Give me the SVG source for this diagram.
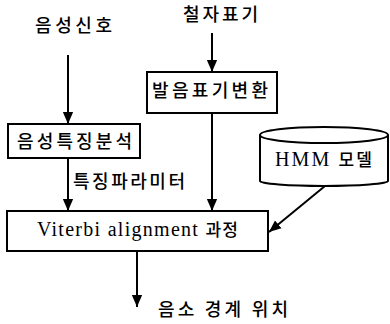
<svg xmlns="http://www.w3.org/2000/svg" width="390" height="324" viewBox="0 0 390 324">
<style>
.box{fill:#fff;stroke:#000;stroke-width:2}
.ln{fill:none;stroke:#000;stroke-width:2}
.ko{font-family:"Noto Sans CJK KR","Noto Sans",sans-serif;font-size:18px;font-weight:500;fill:#000}
.se{font-family:"Liberation Serif","Noto Sans CJK KR",serif;font-size:20px;fill:#000}
.kt{font-family:"Noto Sans CJK KR",sans-serif;font-size:17px;font-weight:500}
</style>
<defs>
<marker id="ah" markerWidth="12" markerHeight="14" refX="14" refY="6" orient="auto" markerUnits="userSpaceOnUse" viewBox="0 0 14 12">
<path d="M0,0 L14,6 L0,12 Z" fill="#000"/>
</marker>
</defs>
<g id="connectors">
<line class="ln" x1="68" y1="55" x2="68" y2="124" marker-end="url(#ah)"/>
<line class="ln" x1="212" y1="33" x2="212" y2="72" marker-end="url(#ah)"/>
<line class="ln" x1="212" y1="113" x2="212" y2="211" marker-end="url(#ah)"/>
<line class="ln" x1="68" y1="158" x2="68" y2="211" marker-end="url(#ah)"/>
<line class="ln" x1="325" y1="186" x2="269" y2="232" marker-end="url(#ah)"/>
<line class="ln" x1="137" y1="251" x2="137" y2="307" marker-end="url(#ah)"/>
<text class="ko" x="73" y="188" textLength="112" lengthAdjust="spacing">특징파라미터</text>
</g>
<g id="in-speech">
<text class="ko" x="35" y="32" textLength="77" lengthAdjust="spacing">음성신호</text>
</g>
<g id="in-spelling">
<text class="ko" x="183" y="21" textLength="75" lengthAdjust="spacing">철자표기</text>
</g>
<g id="phon-conv">
<rect class="box" x="147" y="72" width="130" height="41"/>
<text class="ko" x="152" y="97" textLength="116" lengthAdjust="spacing">발음표기변환</text>
</g>
<g id="feat-anal">
<rect class="box" x="8" y="124" width="132" height="34"/>
<text class="ko" x="17" y="148" textLength="115" lengthAdjust="spacing">음성특징분석</text>
</g>
<g id="hmm">
<path class="box" d="M260,135 L260,181 A64,5 0 0 0 388,181 L388,135"/>
<ellipse class="box" cx="324" cy="135" rx="64" ry="8"/>
<text class="se" x="275" y="166" font-size="19" textLength="97" lengthAdjust="spacing">HMM <tspan class="kt">모델</tspan></text>
</g>
<g id="viterbi">
<rect class="box" x="7" y="211" width="261" height="40"/>
<text class="se" x="37" y="236" textLength="201" lengthAdjust="spacing">Viterbi alignment <tspan class="kt">과정</tspan></text>
</g>
<g id="out">
<text class="ko" x="158" y="316" textLength="130" lengthAdjust="spacing">음소 경계 위치</text>
</g>
</svg>
